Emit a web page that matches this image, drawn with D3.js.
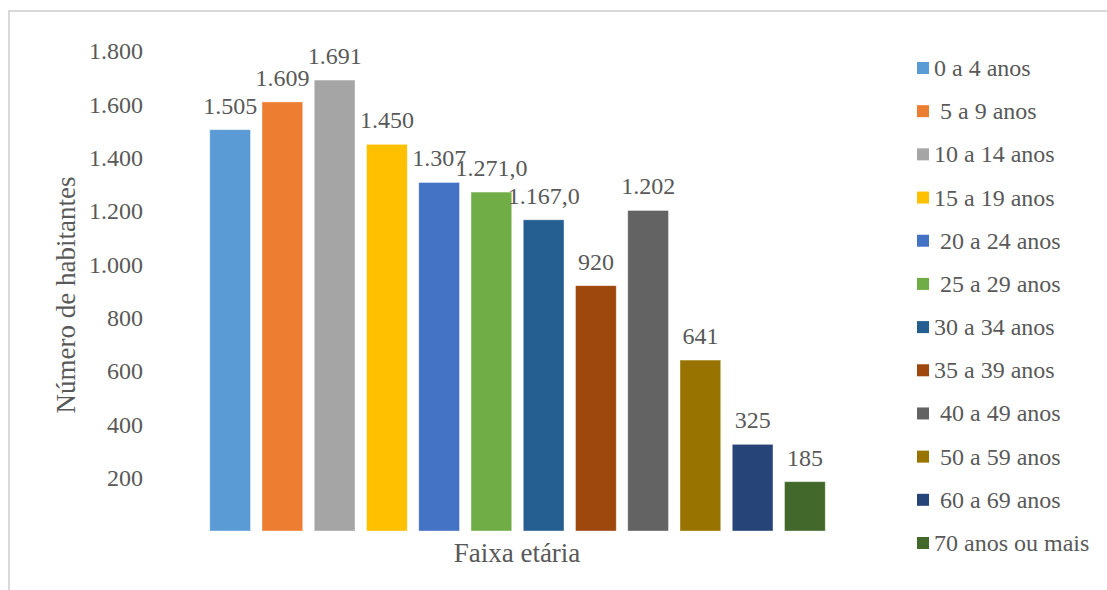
<!DOCTYPE html>
<html>
<head>
<meta charset="utf-8">
<script src="https://cdn.jsdelivr.net/npm/d3@7"></script>
<style>
  body { margin: 0; background: #fff; }
  svg text { font-family: "Liberation Serif", "Times New Roman", serif; fill: #595959; }
</style>
</head>
<body>
<div id="graph1"></div>
<script>
// faixas etárias (a legenda tem alguns espaços iniciais, como no original)
const categories = ["0 a 4 anos", " 5 a 9 anos", "10 a 14 anos", "15 a 19 anos", " 20 a 24 anos", " 25 a 29 anos",
    "30 a 34 anos", "35 a 39 anos", " 40 a 49 anos", " 50 a 59 anos", " 60 a 69 anos", "70 anos ou mais"];
const values = [1505, 1609, 1691, 1450, 1307, 1271, 1167, 920, 1202, 641, 325, 185];
const valueLabels = ["1.505", "1.609", "1.691", "1.450", "1.307", "1.271,0", "1.167,0", "920", "1.202", "641", "325", "185"];
const yTicks = [200, 400, 600, 800, 1000, 1200, 1400, 1600, 1800];
const colors = ["#5B9BD5", "#ED7D31", "#A5A5A5", "#FFC000", "#4472C4", "#70AD47",
    "#255E91", "#9E480E", "#636363", "#997300", "#264478", "#43682B"];

const serif = "'Liberation Serif', 'Times New Roman', serif";

let width = 1107,
    height = 590;

let svg = d3.select("#graph1")
    .append("svg")
    .attr("width", width)
    .attr("height", height)
    .attr("font-family", serif);

// moldura do gráfico
svg.append("path")
    .attr("d", `M9,${height} V11 H${width}`)
    .attr("fill", "none")
    .attr("stroke", "#d9d9d9")
    .attr("stroke-width", 2);

let x = d3.scaleBand()
    .domain(d3.range(values.length))
    .range([204, 831])
    .paddingInner(0.22)
    .paddingOuter(0.11);

let y = d3.scaleLinear()
    .domain([0, 1800])
    .range([531, 51]);

let color = d3.scaleOrdinal()
    .domain(d3.range(values.length))
    .range(colors);

// eixo y só com os rótulos
let yAxis = svg.append("g")
    .attr("transform", "translate(143,0)")
    .call(d3.axisLeft(y).tickValues(yTicks).tickSize(0).tickPadding(0)
        .tickFormat(d => d3.format(",")(d).replace(/,/g, ".")));
yAxis.attr("font-family", serif).attr("font-size", 24);
yAxis.select(".domain").remove();
yAxis.selectAll("text")
    .attr("dy", "0.32em")
    .attr("fill", "#595959");

svg.selectAll("rect.bar")
    .data(values)
    .enter()
    .append("rect")
    .attr("class", "bar")
    .attr("x", (d, i) => x(i))
    .attr("y", d => y(d))
    .attr("width", x.bandwidth())
    .attr("height", d => y(0) - y(d))
    .attr("fill", (d, i) => color(i))
    .attr("stroke", "#ffffff")
    .attr("stroke-opacity", 0.5)
    .attr("stroke-width", 0.8);

svg.selectAll("text.val")
    .data(values)
    .enter()
    .append("text")
    .attr("class", "val")
    .attr("x", (d, i) => x(i) + x.bandwidth() / 2)
    .attr("y", d => y(d) - 16)
    .attr("text-anchor", "middle")
    .attr("font-family", serif)
    .attr("font-size", 24)
    .text((d, i) => valueLabels[i]);

// títulos dos eixos
svg.append("text")
    .attr("transform", "translate(75,295) rotate(-90)")
    .attr("text-anchor", "middle")
    .attr("font-family", serif)
    .attr("font-size", 27)
    .text("Número de habitantes");

svg.append("text")
    .attr("x", 517)
    .attr("y", 562)
    .attr("text-anchor", "middle")
    .attr("font-family", serif)
    .attr("font-size", 27)
    .text("Faixa etária");

// legenda
let legend = svg.append("g")
    .attr("transform", "translate(917,0)");

let ly = d3.scalePoint()
    .domain(d3.range(categories.length))
    .range([68, 543]);

legend.selectAll("rect")
    .data(categories)
    .enter()
    .append("rect")
    .attr("x", 0)
    .attr("y", (d, i) => ly(i) - 6)
    .attr("width", 12)
    .attr("height", 12)
    .attr("fill", (d, i) => color(i));

legend.selectAll("text")
    .data(categories)
    .enter()
    .append("text")
    .attr("x", 17)
    .attr("y", (d, i) => ly(i) + 8)
    .attr("font-family", serif)
    .attr("font-size", 24)
    .style("white-space", "pre")
    .attr("xml:space", "preserve")
    .text(d => d);
</script>
</body>
</html>
